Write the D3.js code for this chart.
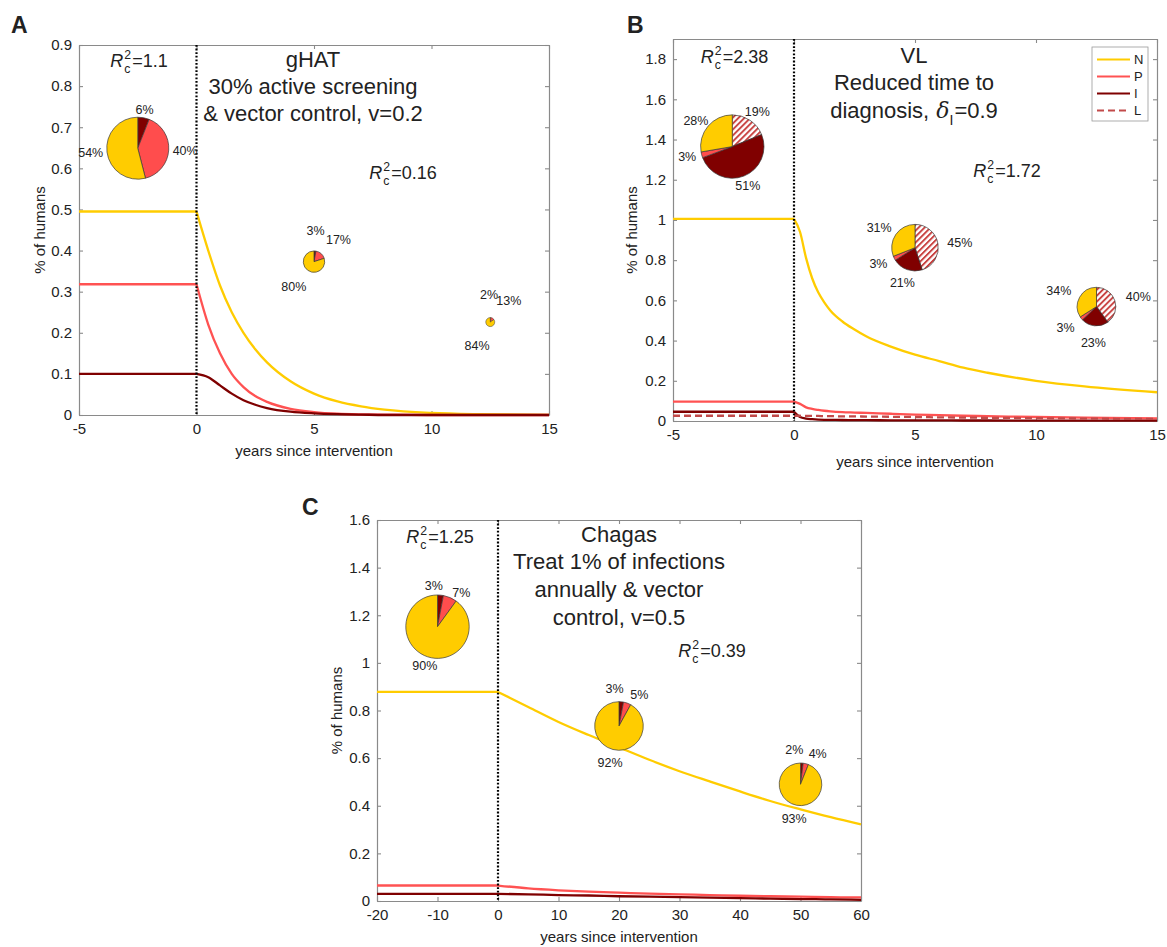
<!DOCTYPE html>
<html><head><meta charset="utf-8">
<script src="https://cdn.jsdelivr.net/npm/d3@7"></script>
<style>
body{margin:0;background:#fff}
svg{display:block}
text{font-family:"Liberation Sans",Arial,Helvetica,sans-serif;fill:#222}
</style>
</head><body>
<svg id="chart" width="1167" height="947"></svg>
<script>
// ---------------- DATA ----------------
const seriesKeys = ["N", "P", "I", "L"];

// Panel A (gHAT)
const timeA = [-5, 0, 0.5, 1, 1.5, 2, 2.5, 3, 4, 5, 6, 7, 8, 10, 12, 15];
const nA = [0.495, 0.495, 0.40, 0.315, 0.25, 0.20, 0.16, 0.128, 0.082, 0.052, 0.033, 0.021, 0.013, 0.005, 0.002, 0.0005];
const pA = [0.318, 0.318, 0.22, 0.15, 0.10, 0.068, 0.046, 0.032, 0.015, 0.007, 0.003, 0.0015, 0.001, 0, 0, 0];
const iA = [0.1, 0.1, 0.092, 0.072, 0.052, 0.036, 0.025, 0.017, 0.008, 0.004, 0.002, 0.001, 0, 0, 0, 0];

// Panel B (VL)
const timeB = [-5, 0, 0.25, 0.5, 0.75, 1, 1.25, 1.5, 2, 2.5, 3, 4, 5, 6, 7, 8, 10, 12, 15];
const nB = [1.005, 1.005, 0.94, 0.81, 0.71, 0.64, 0.59, 0.55, 0.495, 0.455, 0.42, 0.37, 0.33, 0.298, 0.265, 0.24, 0.2, 0.172, 0.143];
const pB = [0.096, 0.096, 0.085, 0.068, 0.06, 0.055, 0.051, 0.048, 0.044, 0.042, 0.04, 0.036, 0.032, 0.029, 0.026, 0.024, 0.02, 0.017, 0.013];
const iB = [0.046, 0.046, 0.02, 0.012, 0.009, 0.007, 0.006, 0.0055, 0.005, 0.0045, 0.004, 0.0035, 0.003, 0.003, 0.0025, 0.0025, 0.002, 0.002, 0.002];
const lB = [0.026, 0.026, 0.026, 0.025, 0.025, 0.025, 0.024, 0.024, 0.023, 0.023, 0.022, 0.021, 0.02, 0.018, 0.017, 0.016, 0.014, 0.012, 0.01];

// Panel C (Chagas)
const timeC = [-20, 0, 5, 10, 15, 20, 25, 30, 35, 40, 45, 50, 55, 60];
const nC = [0.878, 0.878, 0.815, 0.752, 0.697, 0.645, 0.593, 0.545, 0.502, 0.46, 0.42, 0.385, 0.352, 0.322];
const pC = [0.065, 0.065, 0.053, 0.045, 0.039, 0.035, 0.031, 0.028, 0.025, 0.022, 0.02, 0.018, 0.016, 0.015];
const iC = [0.03, 0.03, 0.028, 0.025, 0.023, 0.02, 0.018, 0.016, 0.014, 0.012, 0.01, 0.008, 0.007, 0.005];

// Tick values
const xTicksA = [-5, 0, 5, 10, 15];
const yTicksA = [0, 0.1, 0.2, 0.3, 0.4, 0.5, 0.6, 0.7, 0.8, 0.9];
const xTicksB = [-5, 0, 5, 10, 15];
const yTicksB = [0, 0.2, 0.4, 0.6, 0.8, 1, 1.2, 1.4, 1.6, 1.8];
const xTicksC = [-20, -10, 0, 10, 20, 30, 40, 50, 60];
const yTicksC = [0, 0.2, 0.4, 0.6, 0.8, 1, 1.2, 1.4, 1.6];

// Pie charts (time, level, shares in %, slice order clockwise from top)
const pieOrderA = ["I", "P", "N"];
const pieTimesA = [-2.5, 5, 12.5];
const pieLevelsA = [0.649, 0.373, 0.226];
const pieSharesA = [[6, 40, 54], [3, 17, 80], [2, 13, 84]];

const pieOrderB = ["L", "I", "P", "N"];
const pieTimesB = [-2.55, 5, 12.5];
const pieLevelsB = [1.365, 0.862, 0.569];
const pieSharesB = [[19, 51, 3, 28], [45, 21, 3, 31], [40, 23, 3, 34]];

const pieOrderC = ["I", "P", "N"];
const pieTimesC = [-10, 20, 50];
const pieLevelsC = [1.152, 0.735, 0.49];
const pieSharesC = [[3, 7, 90], [3, 5, 92], [2, 4, 93]];

// Texts
const rcA = ["1.1", "0.16"];
const rcB = ["2.38", "1.72"];
const rcC = ["1.25", "0.39"];
const titleA = ["gHAT", "30% active screening", "& vector control, v=0.2"];
const titleB = ["VL", "Reduced time to"];
const titleC = ["Chagas", "Treat 1% of infections", "annually & vector", "control, v=0.5"];
const xLabel = "years since intervention";
const yLabel = "% of humans";

// ---------------- STYLE ----------------
const colors = { N: "#ffcc00", P: "#ff5252", I: "#7f0000", L: "#c24a4a" };
const pieFill = { N: "#ffcc00", P: "#ff4d4d", I: "#800000", L: "url(#hatch)" };
const axisColor = "#8a8a8a";

const svg = d3.select("#chart");
svg.append("rect").attr("width", 1167).attr("height", 947).attr("fill", "#fff");

const defs = svg.append("defs");
const pat = defs.append("pattern").attr("id", "hatch").attr("patternUnits", "userSpaceOnUse")
  .attr("width", 4.2).attr("height", 4.2).attr("patternTransform", "rotate(45)");
pat.append("rect").attr("width", 4.2).attr("height", 4.2).attr("fill", "#fff");
pat.append("rect").attr("x", 0).attr("width", 1.9).attr("height", 4.2).attr("fill", "#c8403f");

const fmt = d => String(+d.toFixed(2));

function rLabel(g, cx, by, val, fs) {
  const t = g.append("g");
  const R = t.append("text").attr("x", 0).attr("y", by).style("font-size", fs + "px").style("font-style", "italic").text("R");
  const rw = R.node().getComputedTextLength();
  const s = fs * 0.68;
  const sup = t.append("text").attr("x", rw + 1).attr("y", by - fs * 0.45).style("font-size", s + "px").text("2");
  const sub = t.append("text").attr("x", rw + 1).attr("y", by + fs * 0.33).style("font-size", s + "px").text("c");
  const w2 = Math.max(sup.node().getComputedTextLength(), sub.node().getComputedTextLength());
  const eq = t.append("text").attr("x", rw + 2 + w2).attr("y", by).style("font-size", fs + "px").text("=" + val);
  const total = rw + 2 + w2 + eq.node().getComputedTextLength();
  t.attr("transform", `translate(${cx - total / 2},0)`);
}

function drawPanel(cfg) {
  const g = svg.append("g");
  const x = d3.scaleLinear().domain(cfg.xDom).range([cfg.left, cfg.right]);
  const y = d3.scaleLinear().domain(cfg.yDom).range([cfg.bottom, cfg.top]);

  const axes = [
    g.append("g").attr("transform", `translate(0,${cfg.bottom})`)
      .call(d3.axisBottom(x).tickValues(cfg.xTicks).tickSize(-4).tickSizeOuter(0).tickPadding(8).tickFormat(fmt)),
    g.append("g").attr("transform", `translate(0,${cfg.top})`)
      .call(d3.axisTop(x).tickValues(cfg.xTicks).tickSize(-4).tickSizeOuter(0).tickFormat("")),
    g.append("g").attr("transform", `translate(${cfg.left},0)`)
      .call(d3.axisLeft(y).tickValues(cfg.yTicks).tickSize(-4).tickSizeOuter(0).tickPadding(7).tickFormat(fmt)),
    g.append("g").attr("transform", `translate(${cfg.right},0)`)
      .call(d3.axisRight(y).tickValues(cfg.yTicks).tickSize(-4).tickSizeOuter(0).tickFormat(""))
  ];
  axes.forEach(a => {
    a.select(".domain").attr("stroke", axisColor).attr("stroke-width", 1.2);
    a.selectAll(".tick line").attr("stroke", axisColor).attr("stroke-width", 1.1);
    a.selectAll(".tick text").style("font-size", "15px").attr("fill", "#262626")
      .style("font-family", '"Liberation Sans",Arial,sans-serif');
  });

  // curves (pre & post intervention as separate pieces)
  cfg.series.forEach(s => {
    const pts = s.t.map((t, i) => [t, s.v[i]]);
    const pre = pts.filter(p => p[0] <= 0);
    const post = pts.filter(p => p[0] >= 0);
    const line = d3.line().x(p => x(p[0])).y(p => y(p[1])).curve(d3.curveMonotoneX);
    [pre, post].forEach(seg => {
      g.append("path").datum(seg).attr("d", line).attr("fill", "none")
        .attr("stroke", colors[s.key]).attr("stroke-width", 2.3)
        .attr("stroke-dasharray", s.key === "L" ? "7,4" : null);
    });
  });

  // dotted intervention line
  g.append("line").attr("x1", x(0)).attr("x2", x(0)).attr("y1", cfg.top).attr("y2", cfg.bottom)
    .attr("stroke", "#000").attr("stroke-width", 2.2).attr("stroke-dasharray", "1.8,1.8");

  // pies
  const pie = d3.pie().sort(null).value(d => d.v);
  const minGap = 40 * Math.PI / 180;
  cfg.pieTimes.forEach((pt, k) => {
    const cx = x(pt), cy = y(cfg.pieLevels[k]);
    const R = cfg.pieR[k], r0 = cfg.labelR[k];
    const data = cfg.pieShares[k].map((v, i) => ({ key: cfg.pieOrder[i], v }));
    const arcs = pie(data);
    const pg = g.append("g").attr("transform", `translate(${cx},${cy})`);
    const arc = d3.arc().innerRadius(0).outerRadius(R);
    pg.selectAll("path").data(arcs).join("path").attr("d", arc)
      .attr("fill", d => pieFill[d.data.key]).attr("stroke", "#3a3a3a").attr("stroke-width", R > 8 ? 0.7 : 0.5);
    // label angles: mid-angles spread apart to a minimum gap
    const ang = arcs.map(a => (a.startAngle + a.endAngle) / 2);
    for (let it = 0; it < 20; it++) {
      for (let i = 0; i < ang.length - 1; i++) {
        const gap = ang[i + 1] - ang[i];
        if (gap < minGap) {
          const push = (minGap - gap) / 2;
          ang[i] -= push; ang[i + 1] += push;
        }
      }
    }
    arcs.forEach((a, i) => {
      const m = ang[i];
      const sx = Math.sin(m), sy = -Math.cos(m);
      const t = pg.append("text").attr("text-anchor", "middle").attr("dy", "0.35em")
        .style("font-size", "12.5px").attr("fill", "#333").text(a.data.v + "%");
      const w = t.node().getComputedTextLength();
      t.attr("x", sx * (r0 + w / 2 * Math.abs(sx))).attr("y", sy * (r0 + 4.5 * Math.abs(sy)));
    });
  });

  // axis labels
  g.append("text").attr("x", (cfg.left + cfg.right) / 2).attr("y", cfg.xLabelY).attr("text-anchor", "middle")
    .style("font-size", "15px").attr("fill", "#262626").text(xLabel);
  g.append("text").attr("transform", `translate(${cfg.yLabelX},${(cfg.top + cfg.bottom) / 2}) rotate(-90)`)
    .attr("text-anchor", "middle").style("font-size", "15px").attr("fill", "#262626").text(yLabel);

  // panel letter
  g.append("text").attr("x", cfg.letterX).attr("y", cfg.letterY).style("font-size", "23px")
    .style("font-weight", "bold").attr("fill", "#000").text(cfg.letter);

  // R labels
  rLabel(g, cfg.r1[0], cfg.r1[1], cfg.rc[0], 18);
  rLabel(g, cfg.r2[0], cfg.r2[1], cfg.rc[1], 18);

  // title lines
  cfg.title.forEach((s, i) => {
    g.append("text").attr("x", cfg.titleX).attr("y", cfg.titleY[i]).attr("text-anchor", "middle")
      .style("font-size", "22px").text(s);
  });
  return { g, x, y };
}

drawPanel({
  letter: "A", letterX: 11, letterY: 33,
  left: 79, right: 549, top: 45, bottom: 415,
  xDom: [-5, 15], yDom: [0, 0.9], xTicks: xTicksA, yTicks: yTicksA,
  series: [{ key: "N", t: timeA, v: nA }, { key: "P", t: timeA, v: pA }, { key: "I", t: timeA, v: iA }],
  pieOrder: pieOrderA, pieTimes: pieTimesA, pieLevels: pieLevelsA, pieShares: pieSharesA,
  pieR: [31, 10.7, 4.5], labelR: [35, 27, 23],
  xLabelY: 456, yLabelX: 45,
  rc: rcA, r1: [139, 67], r2: [403, 179],
  title: titleA, titleX: 313, titleY: [67, 94, 121]
});

const pB_ = drawPanel({
  letter: "B", letterX: 627, letterY: 33,
  left: 673, right: 1157, top: 39, bottom: 421,
  xDom: [-5, 15], yDom: [0, 1.9], xTicks: xTicksB, yTicks: yTicksB,
  series: [{ key: "N", t: timeB, v: nB }, { key: "P", t: timeB, v: pB }, { key: "I", t: timeB, v: iB }, { key: "L", t: timeB, v: lB }],
  pieOrder: pieOrderB, pieTimes: pieTimesB, pieLevels: pieLevelsB, pieShares: pieSharesB,
  pieR: [31.7, 23.3, 19.3], labelR: [38, 33, 32],
  xLabelY: 467, yLabelX: 637,
  rc: rcB, r1: [734.5, 63], r2: [1007, 177],
  title: titleB, titleX: 914, titleY: [63, 90]
});

// "diagnosis, δI=0.9" line
(function () {
  const g = pB_.g.append("g");
  const fs = 22, by = 118;
  const a = g.append("text").attr("x", 0).attr("y", by).style("font-size", fs + "px").text("diagnosis,");
  const aw = a.node().getComputedTextLength() + 7;
  const d = g.append("text").attr("x", aw).attr("y", by).style("font-size", fs + "px").style("font-style", "italic")
    .style("font-family", '"DejaVu Serif",serif').text("δ");
  const dw = d.node().getComputedTextLength();
  const s = g.append("text").attr("x", aw + dw).attr("y", by + 7).style("font-size", "14px").text("I");
  const sw = s.node().getComputedTextLength();
  const e = g.append("text").attr("x", aw + dw + sw + 1).attr("y", by).style("font-size", fs + "px").text("=0.9");
  const total = aw + dw + sw + 1 + e.node().getComputedTextLength();
  g.attr("transform", `translate(${914 - total / 2},0)`);
})();

// legend (panel B)
(function () {
  const lg = pB_.g.append("g");
  lg.append("rect").attr("x", 1092).attr("y", 47).attr("width", 56).attr("height", 74)
    .attr("fill", "#fff").attr("stroke", "#999").attr("stroke-width", 0.8);
  seriesKeys.forEach((k, i) => {
    const yy = 59.5 + i * 17;
    lg.append("line").attr("x1", 1097).attr("x2", 1130).attr("y1", yy).attr("y2", yy)
      .attr("stroke", colors[k]).attr("stroke-width", 2.2).attr("stroke-dasharray", k === "L" ? "7,4" : null);
    lg.append("text").attr("x", 1134).attr("y", yy).attr("dy", "0.36em").style("font-size", "13px").text(k);
  });
})();

drawPanel({
  letter: "C", letterX: 302, letterY: 515,
  left: 377, right: 861, top: 520, bottom: 901,
  xDom: [-20, 60], yDom: [0, 1.6], xTicks: xTicksC, yTicks: yTicksC,
  series: [{ key: "N", t: timeC, v: nC }, { key: "P", t: timeC, v: pC }, { key: "I", t: timeC, v: iC }],
  pieOrder: pieOrderC, pieTimes: pieTimesC, pieLevels: pieLevelsC, pieShares: pieSharesC,
  pieR: [31.7, 24.3, 21.3], labelR: [37, 33, 31],
  xLabelY: 942, yLabelX: 342,
  rc: rcC, r1: [440, 543], r2: [712, 657],
  title: titleC, titleX: 619, titleY: [542, 569, 597, 625]
});
</script>
</body></html>
